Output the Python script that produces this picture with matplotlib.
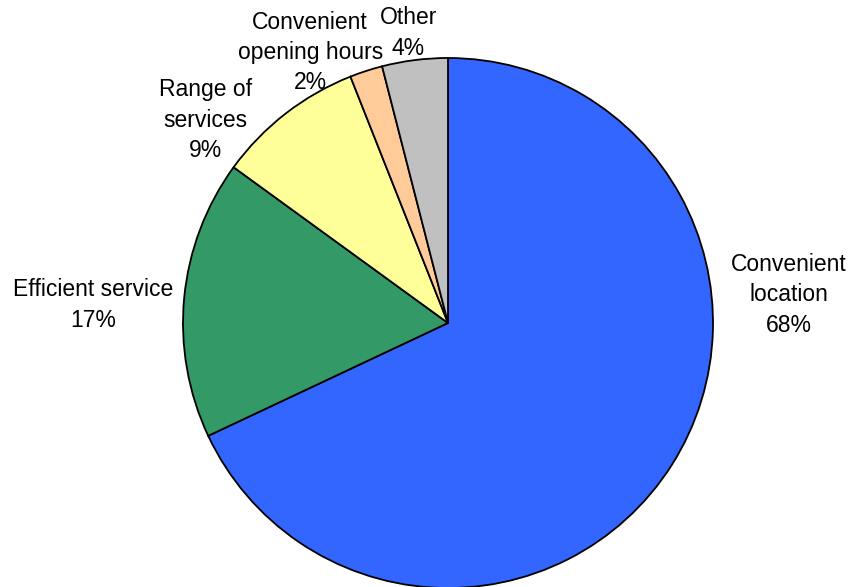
import matplotlib
matplotlib.use("Agg")
import matplotlib.pyplot as plt

plt.rcParams['font.family'] = ['Liberation Sans', 'DejaVu Sans']

categories = ["Convenient\nlocation", "Efficient service", "Range of\nservices",
              "Convenient\nopening hours", "Other"]
shares = [68, 17, 9, 2, 4]
colors = ["#3366FF", "#339966", "#FFFF99", "#FFCC99", "#C0C0C0"]

# label placement (data units, pie radius = 1)
label_pos = [(1.285, 0.106), (-1.34, 0.068), (-0.915, 0.766),
             (-0.52, 1.02), (-0.15, 1.094)]

fig = plt.figure(figsize=(8.53, 5.87), dpi=100)
ax = fig.add_axes([0, 0, 1, 1])

wedges, texts = ax.pie(shares, colors=colors, startangle=90, counterclock=False,
                       wedgeprops=dict(edgecolor="black", linewidth=1.3))

for name, val, (x, y) in zip(categories, shares, label_pos):
    ax.text(x, y, f"{name}\n{val}%", ha="center", va="center",
            fontsize=16.5, linespacing=1.4, color="black")

r = 265.0
ax.set_xlim(-448 / r, (853 - 448) / r)
ax.set_ylim(-(587 - 323) / r, 323 / r)
ax.set_aspect("auto")
ax.axis("off")

plt.savefig("out.png", dpi=100, facecolor="white")
